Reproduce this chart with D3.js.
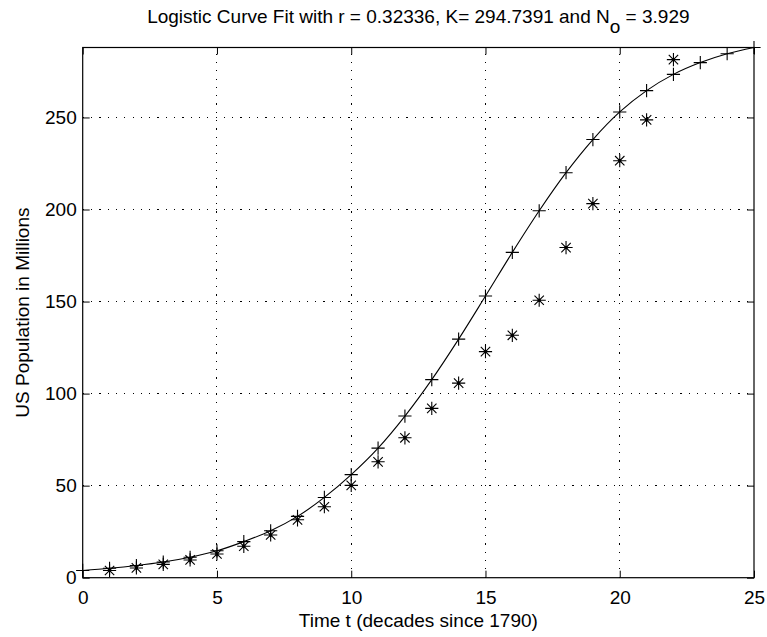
<!DOCTYPE html>
<html>
<head>
<meta charset="utf-8">
<script src="https://cdn.jsdelivr.net/npm/d3@7"></script>
<style>
  html, body { margin: 0; padding: 0; background: #fff; }
  svg { display: block; }
  text { font-family: "Liberation Sans", Arial, Helvetica, sans-serif; fill: #000; }
</style>
</head>
<body>
<svg id="chart" width="767" height="637"></svg>
<script>
// ---- data ----
// Census points (asterisks), t = 1..22
const censusT = [1,2,3,4,5,6,7,8,9,10,11,12,13,14,15,16,17,18,19,20,21,22];
const censusPop = [3.929,5.308,7.240,9.638,12.866,17.069,23.192,31.443,38.558,50.156,62.948,75.996,
                   91.972,105.711,122.775,131.669,150.697,179.323,203.212,226.505,248.710,281.422];
// Logistic fit points (plus markers and curve), t = 0..25
const fitT = [0,1,2,3,4,5,6,7,8,9,10,11,12,13,14,15,16,17,18,19,20,21,22,23,24,25];
const fitPop = [3.929,5.1,6.6,8.5,11.1,14.6,19.6,25.5,33.3,43.6,56.0,70.4,87.8,107.6,129.6,153.0,
                176.7,199.3,220.0,238.0,253.0,264.6,273.4,279.8,284.6,288.0];
const xTicks = [0,5,10,15,20,25];
const yTicks = [0,50,100,150,200,250];
const xDomain = [0,25];
const yDomain = [0,288];

const svg = d3.select("#chart");
const L = 82.7, R = 754, T = 47.5, B = 577.7;
const x = d3.scaleLinear().domain(xDomain).range([L, R]);
const y = d3.scaleLinear().domain(yDomain).range([B, T]);
const FS = 19;
const tickLen = 7;

// grid (dotted)
const grid = svg.append("g");
grid.selectAll("line.gx").data(xTicks.filter(d => d > xDomain[0] && d < xDomain[1])).join("line")
  .attr("x1", d => x(d)).attr("x2", d => x(d)).attr("y1", B).attr("y2", T)
  .attr("stroke", "#000").attr("stroke-width", 1).attr("stroke-dasharray", "1.2,7.1")
  .attr("shape-rendering", "crispEdges");
grid.selectAll("line.gy").data(yTicks.filter(d => d > yDomain[0] && d < yDomain[1])).join("line")
  .attr("x1", L).attr("x2", R).attr("y1", d => y(d)).attr("y2", d => y(d))
  .attr("stroke", "#000").attr("stroke-width", 1).attr("stroke-dasharray", "1.2,7.1")
  .attr("shape-rendering", "crispEdges");

// axes via d3 axis (inner ticks), then box
const xAxis = svg.append("g").attr("transform", `translate(0,${B})`)
  .call(d3.axisBottom(x).tickValues(xTicks).tickSize(-tickLen).tickPadding(13).tickFormat(d3.format("d")));
const xAxisTop = svg.append("g").attr("transform", `translate(0,${T})`)
  .call(d3.axisTop(x).tickValues(xTicks).tickSize(-tickLen).tickFormat(""));
const yAxis = svg.append("g").attr("transform", `translate(${L},0)`)
  .call(d3.axisLeft(y).tickValues(yTicks).tickSize(-tickLen).tickPadding(13).tickFormat(d3.format("d")));
const yAxisR = svg.append("g").attr("transform", `translate(${R},0)`)
  .call(d3.axisRight(y).tickValues(yTicks).tickSize(-tickLen).tickFormat(""));
[xAxis, xAxisTop, yAxis, yAxisR].forEach(g => {
  g.select(".domain").remove();
  g.selectAll("line").attr("stroke", "#000").attr("stroke-width", 1);
  g.selectAll("text").attr("font-size", FS).attr("font-family", "Liberation Sans, Arial, sans-serif").attr("fill", "#000");
});
xAxis.selectAll("text").attr("dy", "0.71em").attr("y", 13);
yAxis.selectAll("text").attr("x", -6);

svg.append("rect").attr("x", L).attr("y", T).attr("width", R - L).attr("height", B - T)
  .attr("fill", "none").attr("stroke", "#000").attr("stroke-width", 1.2);

// fitted curve
const line = d3.line().x((d, i) => x(fitT[i])).y(d => y(d)).curve(d3.curveMonotoneX);
svg.append("path").attr("d", line(fitPop)).attr("fill", "none").attr("stroke", "#000").attr("stroke-width", 1.1);

// plus markers
const r = 6.6;
svg.append("g").selectAll("path").data(fitPop).join("path")
  .attr("transform", (d, i) => `translate(${x(fitT[i])},${y(d)})`)
  .attr("d", `M${-r},0H${r}M0,${-r}V${r}`)
  .attr("stroke", "#000").attr("stroke-width", 1.1).attr("fill", "none");

// asterisk markers
const a = 6.6, ad = 4.7;
const ast = svg.append("g").selectAll("g").data(censusPop).join("g")
  .attr("transform", (d, i) => `translate(${x(censusT[i])},${y(d)})`);
ast.append("path")
  .attr("d", `M${-a},0H${a}M0,${-a}V${a}M${-ad},${-ad}L${ad},${ad}M${-ad},${ad}L${ad},${-ad}`)
  .attr("stroke", "#000").attr("stroke-width", 1.1).attr("fill", "none");
ast.append("rect").attr("x", -1.5).attr("y", -1.5).attr("width", 3).attr("height", 3).attr("fill", "#000");

// title with subscript
const title = svg.append("text").attr("x", (L + R) / 2).attr("y", 23).attr("text-anchor", "middle")
  .attr("font-size", FS);
title.append("tspan").text("Logistic Curve Fit with r = 0.32336, K= 294.7391 and N");
title.append("tspan").attr("dy", 10).attr("font-size", FS).text("o");
title.append("tspan").attr("dy", -10).text(" = 3.929");

// axis labels
svg.append("text").attr("x", (L + R) / 2).attr("y", 627).attr("text-anchor", "middle")
  .attr("font-size", FS).text("Time t (decades since 1790)");
svg.append("text").attr("transform", `translate(28.5,${(T + B) / 2}) rotate(-90)`)
  .attr("text-anchor", "middle").attr("font-size", FS).text("US Population in Millions");
</script>
</body>
</html>
